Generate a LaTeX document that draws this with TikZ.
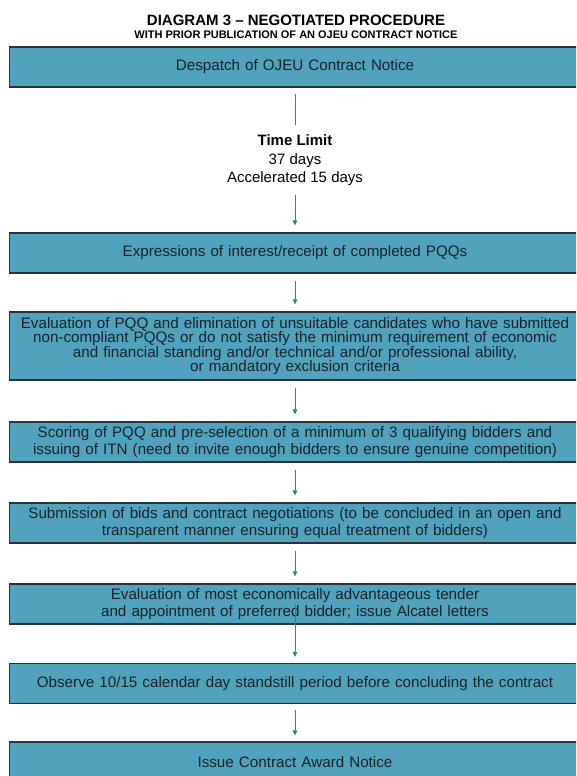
\documentclass[tikz,border=0pt]{standalone}
\usepackage{fontspec}
\setmainfont{Liberation Sans}
\usetikzlibrary{arrows.meta}

\definecolor{boxfill}{RGB}{80,162,189}
\definecolor{boxline}{RGB}{40,50,56}
\definecolor{flow}{RGB}{38,138,124}
\definecolor{ink}{RGB}{26,34,40}

\begin{document}
\begin{tikzpicture}[x=1pt,y=-1pt,
  stage/.style={draw=boxline, line width=1.1pt, fill=boxfill,
    minimum width=571pt, minimum height=40pt, text width=565pt,
    align=center, inner sep=0pt, text=ink,
    font=\fontsize{15.2}{16.5}\selectfont},
  heading/.style={font=\bfseries\fontsize{15}{15}\selectfont, text=black, inner sep=0pt},
  subheading/.style={font=\bfseries\fontsize{11}{11}\selectfont, text=black, inner sep=0pt},
  note/.style={align=center, inner sep=0pt, text=black,
    font=\fontsize{15}{18.5}\selectfont},
  flowline/.style={draw=flow, line width=0.9pt},
  flowarrow/.style={flowline, -{Triangle[length=5pt,width=4.5pt]}},
]
% page area
\fill[white] (0,0) rectangle (576,776);
\clip (0,0) rectangle (576,776);

% headings
\node[heading] (title) at (296,20.5) {DIAGRAM 3 -- NEGOTIATED PROCEDURE};
\node[subheading] (subtitle) at (296,35) {WITH PRIOR PUBLICATION OF AN OJEU CONTRACT NOTICE};

% procedure stages
\node[stage] (b1) at (295,67) {Despatch of OJEU Contract Notice};
\node[note] (tl) at (295,160.5) {\textbf{Time Limit}\\37 days\\Accelerated 15 days};
\node[stage] (b2) at (295,253) {Expressions of interest/receipt of completed PQQs};
\node[stage, minimum height=68pt, font=\fontsize{15.2}{14.4}\selectfont] (b3) at (295,346)
  {Evaluation of PQQ and elimination of unsuitable candidates who have submitted\\
  non-compliant PQQs or do not satisfy the minimum requirement of economic\\
  and financial standing and/or technical and/or professional ability,\\
  or mandatory exclusion criteria};
\node[stage] (b4) at (295,442) {Scoring of PQQ and pre-selection of a minimum of 3 qualifying bidders and\\
  issuing of ITN (need to invite enough bidders to ensure genuine competition)};
\node[stage] (b5) at (295,523) {Submission of bids and contract negotiations (to be concluded in an open and\\
  transparent manner ensuring equal treatment of bidders)};
\node[stage] (b6) at (295,604) {Evaluation of most economically advantageous tender\\
  and appointment of preferred bidder; issue Alcatel letters};
\node[stage] (b7) at (295,683.5) {Observe 10/15 calendar day standstill period before concluding the contract};
\node[stage] (b8) at (295,762) {Issue Contract Award Notice};

% connectors
\draw[flowline, shorten <=6pt, shorten >=9.5pt] (b1.south) -- (tl.north);
\draw[flowarrow, shorten <=8.5pt, shorten >=7pt] (tl.south) -- (b2.north);
\draw[flowarrow, shorten <=7pt, shorten >=7pt] (b2.south) -- (b3.north);
\draw[flowarrow, shorten <=7pt, shorten >=7pt] (b3.south) -- (b4.north);
\draw[flowarrow, shorten <=7pt, shorten >=7pt] (b4.south) -- (b5.north);
\draw[flowarrow, shorten <=7pt, shorten >=7pt] (b5.south) -- (b6.north);
\draw[flowarrow, shorten >=6pt] (b6.center) -- (b7.north);
\draw[flowarrow, shorten <=6pt, shorten >=6pt] (b7.south) -- (b8.north);
\end{tikzpicture}
\end{document}
